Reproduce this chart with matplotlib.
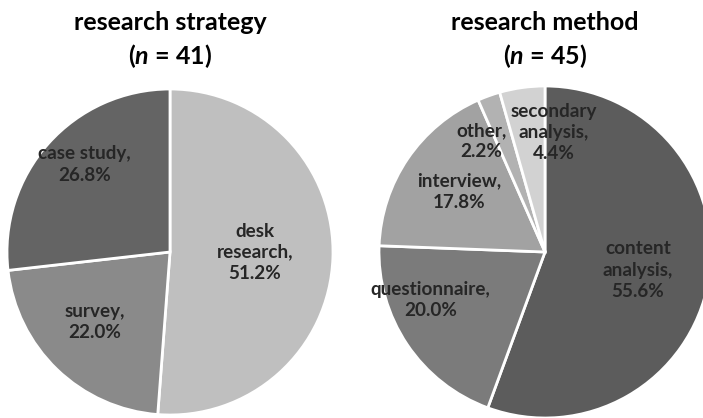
import matplotlib
matplotlib.use("Agg")
import matplotlib.pyplot as plt
import numpy as np

plt.rcParams['font.family'] = ['Lato', 'DejaVu Sans']
plt.rcParams['mathtext.fontset'] = 'custom'
plt.rcParams['mathtext.it'] = 'Lato:italic:bold'
plt.rcParams['mathtext.rm'] = 'Lato:bold'

# Data
strategy_labels = ["desk\nresearch,", "survey,", "case study,"]
strategy_values = [51.2, 22.0, 26.8]
strategy_n = 41
method_labels = ["content\nanalysis,", "questionnaire,", "interview,", "other,", "secondary\nanalysis,"]
method_values = [55.6, 20.0, 17.8, 2.2, 4.4]
method_n = 45

# Styles
strategy_colors = ["#bfbfbf", "#8a8a8a", "#646464"]
method_colors = ["#5c5c5c", "#7b7b7b", "#a2a2a2", "#b2b2b2", "#d2d2d2"]
strategy_lab_r = [0.52, 0.63, 0.75]
strategy_lab_da = [2, -3, -4]
method_lab_r = [0.57, 0.75, 0.63, 0.77, 0.72]
method_lab_da = [-1, -11, -1, 10, -12]

W, H = 703, 418
fig = plt.figure(figsize=(W / 100, H / 100), dpi=100)
ax = fig.add_axes([0, 0, 1, 1])
ax.set_xlim(0, W)
ax.set_ylim(0, H)
ax.set_aspect('equal')
ax.axis('off')


def draw(values, labels, colors, center, radius, lab_r, lab_da, title, n):
    wedges, _ = ax.pie(values, colors=colors, startangle=90, counterclock=False,
                       center=center, radius=radius,
                       wedgeprops=dict(edgecolor='white', linewidth=2))
    for w, v, lab, rr, da in zip(wedges, values, labels, lab_r, lab_da):
        mid = np.deg2rad((w.theta1 + w.theta2) / 2 + da)
        x = center[0] + rr * radius * np.cos(mid)
        y = center[1] + rr * radius * np.sin(mid)
        ax.text(x, y, f"{lab}\n{v:.1f}%", ha='center', va='center',
                fontsize=13.6, fontweight='bold', color='#262626', linespacing=1.3)
    ax.text(center[0], H - 22, title, ha='center', va='center',
            fontsize=18, fontweight='bold', color='black')
    ax.text(center[0], H - 56, r"($\it{n}$ = " + f"{n})", ha='center', va='center',
            fontsize=18, fontweight='bold', color='black')


draw(strategy_values, strategy_labels, strategy_colors, (170, H - 252), 163,
     strategy_lab_r, strategy_lab_da, "research strategy", strategy_n)
draw(method_values, method_labels, method_colors, (545, H - 252), 166,
     method_lab_r, method_lab_da, "research method", method_n)

ax.set_xlim(0, W)
ax.set_ylim(0, H)
fig.savefig("out.png", dpi=100, facecolor='white')
